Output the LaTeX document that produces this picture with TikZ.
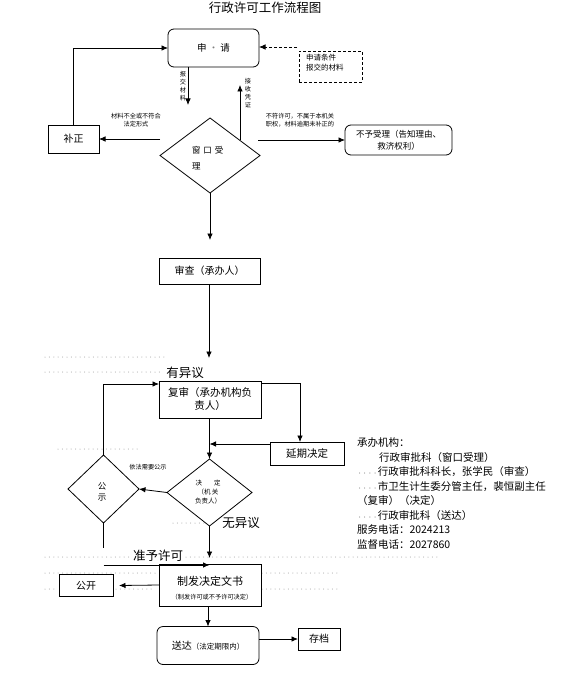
\documentclass[tikz,border=0pt]{standalone}
\usepackage{fontspec}
\setmainfont{Noto Sans CJK SC}
\usetikzlibrary{arrows.meta,shapes.geometric}
\newcommand\wdots{{\fontsize{5.2}{6}\selectfont\textcolor{gray}{····}}}
\newcommand\gdot{\textcolor{gray}{·}}
\begin{document}
\begin{tikzpicture}[x=1pt,y=-1pt,
  every node/.style={inner sep=0pt, outer sep=0pt},
  box/.style={draw, line width=0.8pt, align=center, font=\fontsize{10}{12}\selectfont},
  rbox/.style={box, rounded corners=6pt},
  dia/.style={draw, line width=0.8pt, diamond, minimum width=#1},
  arr/.style={line width=0.8pt, -{Latex[length=6.5pt,width=5.5pt]}},
  dasharr/.style={arr, dash pattern=on 3pt off 2pt},
  ln/.style={line width=0.8pt},
  lead/.style={gray!85, line width=1pt, line cap=round, dash pattern=on 0pt off 4.4pt},
  tiny/.style={font=\fontsize{6.2}{8}\selectfont, align=center},
  big/.style={font=\fontsize{12.5}{14}\selectfont},
  rtext/.style={anchor=west, font=\fontsize{10.5}{12}\selectfont}
]
\useasboundingbox (0,0) rectangle (575,674);

% title
\node[big] (title) at (265,8) {行政许可工作流程图};

% leader dotted lines (document artefacts)
\draw[lead] (45,357) -- (165,357);
\draw[lead] (45,372) -- (163,372);
\draw[lead] (58,449) -- (138,449);
\draw[lead] (173,523) -- (207,523);
\draw[lead] (45,557) -- (130,557);
\draw[lead] (186,557) -- (440,557);
\draw[lead] (45,573) -- (157,573);
\draw[lead] (262,573) -- (340,573);
\draw[lead] (45,589) -- (58,589);
\draw[lead] (116,589) -- (155,589);
\draw[lead] (262,589) -- (340,589);

% nodes
\node[rbox, minimum width=91pt, minimum height=38pt, font=\fontsize{9.5}{11}\selectfont] (apply) at (213.5,48) {\raisebox{-3pt}{申 \gdot{} 请}};
\node[draw, line width=0.8pt, dash pattern=on 3pt off 2pt, minimum width=63pt, minimum height=31pt] (cond) at (330.5,66.5) {};
\node[anchor=west, align=left, font=\fontsize{7.5}{10}\selectfont] (condt) at (306,63) {申请条件\\报交的材料};
\node[box, minimum width=51pt, minimum height=28pt] (fix) at (73.5,139) {补正};
\node[dia=100pt, minimum height=75pt] (win) at (210,155.5) {};
\node[anchor=west, align=left, font=\fontsize{8.5}{16}\selectfont] (wint) at (192,158) {窗\hspace{3pt}口\hspace{3pt}受\\理};
\node[rbox, minimum width=107pt, minimum height=30pt, font=\fontsize{8.5}{12}\selectfont] (reject) at (398.5,140) {不予受理（告知理由、\\救济权利）};
\node[box, minimum width=101pt, minimum height=26pt] (review) at (209.5,271) {审查（承办人）};
\node[box, minimum width=102pt, minimum height=37pt, font=\fontsize{10.5}{13}\selectfont] (recheck) at (210,399.5) {复审（承办机构负\\责人）};
\node[box, minimum width=74pt, minimum height=23pt, font=\fontsize{10.5}{12}\selectfont] (delay) at (307,453.5) {延期决定};
\node[dia=85pt, minimum height=67pt] (decide) at (209.5,492.5) {};
\node[tiny, font=\fontsize{6.5}{9}\selectfont] (decidet) at (208,492) {决\hspace{12pt}定\\（机 关\\负责人）};
\node[dia=71pt, minimum height=68pt] (pub) at (103.5,489) {};
\node[align=center, font=\fontsize{8.5}{11}\selectfont] (pubt) at (102,492) {公\\示};
\node[box, minimum width=102pt, minimum height=42pt] (issue) at (210,585) {};
\node[font=\fontsize{11}{12}\selectfont] (issuet) at (210,581) {制发决定文书};
\node[font=\fontsize{6.2}{7}\selectfont] (issues) at (212,597) {（制发许可或不予许可决定）};
\node[box, minimum width=54pt, minimum height=22pt] (open) at (86,585.5) {公开};
\node[rbox, minimum width=102pt, minimum height=38pt] (deliver) at (208,645.5) {送达{\fontsize{7.5}{9}\selectfont（法定期限内）}};
\node[box, minimum width=42pt, minimum height=22pt] (archive) at (319,639) {存档};

% labels
\node[tiny] (l1) at (183,86) {报\\交\\材\\料};
\node[tiny] (l2) at (248,93.5) {接\\收\\凭\\证};
\node[tiny] (l3) at (136,120) {材料不全或不符合\\法定形式};
\node[tiny] (l4) at (300,120) {不符许可，不属于本机关\\职权，材料逾期未补正的};
\node[tiny] (l5) at (148,467) {依法需要公示};
\node[big] (yes) at (185,373) {有异议};
\node[big] (no) at (241,523) {无异议};
\node[big] (grant) at (158,556) {准予许可};

% right text block
\node[rtext] (t1) at (357,443) {承办机构：};
\node[rtext] (t2) at (379,457.5) {行政审批科（窗口受理）};
\node[rtext] (t3) at (357,472) {\wdots 行政审批科科长，张学民（审查）};
\node[rtext] (t4) at (357,486.5) {\wdots 市卫生计生委分管主任，裴恒副主任};
\node[rtext] (t5) at (357,501) {（复审）（决定）};
\node[rtext] (t6) at (357,515.5) {\wdots 行政审批科（送达）};
\node[rtext] (t7) at (357,530) {服务电话：2024213};
\node[rtext] (t8) at (357,544.5) {监督电话：2027860};

% coordinates
\coordinate (cd) at (297,47);
\coordinate (a1) at (188,105);
\coordinate (u1) at (240,140);
\coordinate (u2) at (240,85);
\coordinate (lw) at (160,139);
\coordinate (rw) at (258,140);
\coordinate (d1) at (210,240);
\coordinate (d2) at (209,358);
\coordinate (rc) at (300,383);
\coordinate (dl) at (270,444);
\coordinate (pc) at (103.5,384);
\coordinate (pb) at (103.5,548);
\coordinate (ps) at (103.5,565);
\coordinate (gd) at (209.5,558);

% connectors
\draw[arr] (fix.north) |- (apply.west);
\draw[dasharr] (cd) -- (cd -| apply.east);
\draw[arr] (apply.south -| a1) -- (a1);
\draw[arr] (u1) -- (u2);
\draw[arr] (lw) -- (lw -| fix.east);
\draw[arr] (rw) -- (rw -| reject.west);
\draw[arr] (win.south) -- (d1);
\draw[arr] (review.south -| d2) -- (d2);
\draw[arr] (rc -| recheck.east) -- (rc) -- (rc |- delay.north);
\draw[arr] (dl -| delay.west) -- (dl -| decide.north);
\draw[arr] (recheck.south -| decide.north) -- (decide.north);
\draw[arr] (decide.west) -- (pub.east);
\draw[arr] (pub.north) -- (pc) -- (pc -| recheck.west);
\draw[ln] (pub.south) -- (pb);
\draw[arr] (ps) -- (ps -| decide.north);
\draw[arr] (decide.south) -- (gd);
\draw[arr] (issue.west) -- ([xshift=6pt]open.east);
\draw[arr] (issue.south -| deliver.north) -- (deliver.north);
\draw[arr] (archive.west -| deliver.east) -- (archive.west);
\end{tikzpicture}
\end{document}
